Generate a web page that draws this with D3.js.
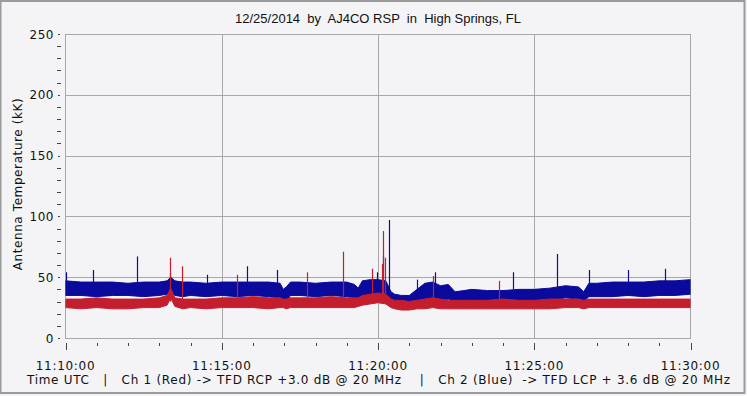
<!DOCTYPE html>
<html>
<head>
<meta charset="utf-8">
<script src="https://cdn.jsdelivr.net/npm/d3@7"></script>
<style>
  body { margin: 0; background: #f4f4f6; }
  svg text { white-space: pre; }
</style>
</head>
<body>
<div id="chart"></div>
<script>
// seconds after 11:10:00 UTC, with the band (low / high) of each channel in kK
const times = [0, 30, 60, 90, 120, 150, 180, 195, 202, 210, 225, 240, 270, 300, 330, 360, 390, 412, 418, 424, 432, 450, 480, 510, 540, 555, 562, 570, 585, 600, 615, 625, 632, 645, 660, 675, 690, 705, 720, 735, 748, 765, 780, 810, 840, 870, 900, 930, 960, 985, 995, 1005, 1020, 1050, 1080, 1110, 1140, 1170, 1200]
const blueLo = [35, 35, 34, 35, 35, 34, 35, 36, 38, 35, 34, 35, 34, 35, 34, 35, 34, 33, 29, 30, 35, 35, 34, 35, 34, 33, 30, 35, 35, 36, 35, 31, 29, 28, 28, 30, 32, 33, 31, 32, 30, 30, 30, 30, 30, 30, 30, 31, 33, 32, 30, 34, 34, 34, 35, 34, 35, 35, 36]
const blueHi = [47, 46, 46, 46, 45, 46, 46, 47, 50, 47, 46, 46, 45, 46, 46, 46, 46, 45, 40, 42, 46, 46, 45, 46, 46, 44, 41, 47, 48, 48, 47, 38, 36, 35, 35, 40, 45, 46, 43, 44, 38, 39, 40, 39, 39, 40, 40, 41, 43, 42, 38, 45, 45, 46, 46, 46, 47, 47, 48]
const redLo = [25, 24, 25, 24, 24, 25, 25, 27, 33, 26, 24, 25, 24, 25, 25, 25, 24, 25, 25, 24, 25, 25, 25, 25, 25, 25, 26, 27, 28, 29, 28, 25, 24, 23, 23, 24, 24, 25, 24, 24, 24, 24, 24, 24, 24, 24, 24, 24, 25, 25, 24, 25, 25, 25, 25, 25, 25, 25, 25]
const redHi = [32, 32, 33, 32, 32, 32, 33, 35, 41, 33, 32, 32, 32, 33, 33, 34, 33, 33, 32, 32, 33, 33, 33, 34, 33, 33, 33, 35, 36, 37, 36, 32, 31, 31, 30, 31, 32, 33, 32, 31, 31, 31, 31, 31, 32, 31, 31, 32, 32, 32, 31, 32, 32, 32, 32, 32, 32, 32, 32]

// isolated spikes [seconds, kK]
const blueSpikes = [[1, 54], [53, 56], [137, 67], [201, 53], [271, 52], [348, 59], [406, 56], [598, 54], [610, 68], [621, 97], [675, 48], [709, 54], [859, 54], [944, 69], [1005, 56], [1080, 56], [1151, 57]]
const redSpikes = [[200, 66], [223, 59], [329, 52], [464, 54], [533, 71], [589, 57], [607, 61], [610, 88], [614, 66], [706, 51], [832, 47]]

const yTicks = [0, 50, 100, 150, 200, 250]
const xTickLabels = ['11:10:00', '11:15:00', '11:20:00', '11:25:00', '11:30:00']

const title = '12/25/2014  by  AJ4CO RSP  in  High Springs, FL'
const yTitle = 'Antenna Temperature (kK)'
const footer = 'Time UTC   |   Ch 1 (Red) -> TFD RCP +3.0 dB @ 20 MHz    |   Ch 2 (Blue)  -> TFD LCP + 3.6 dB @ 20 MHz'

const W = 747, H = 396
const plot = { left: 65.5, right: 690.5, top: 34, bottom: 338 }
const blue = '#0a0a9c', red = '#c41e2e'
const axisFont = 'Verdana, "DejaVu Sans", sans-serif'

const svg = d3.select('#chart').append('svg').attr('width', W).attr('height', H)

svg.append('defs').append('clipPath').attr('id', 'plotClip')
  .append('rect').attr('x', plot.left).attr('y', plot.top)
  .attr('width', plot.right - plot.left).attr('height', plot.bottom - plot.top)

// frame
svg.append('rect').attr('x', 0.5).attr('y', 1).attr('width', W - 3).attr('height', H - 4)
  .attr('fill', '#f4f4f6').attr('stroke', '#9a9a9a').attr('stroke-width', 2)

const x = d3.scaleLinear().domain([0, 1200]).range([plot.left, plot.right])
const y = d3.scaleLinear().domain([0, 250]).range([plot.bottom, plot.top])

// grid
const grid = svg.append('g').attr('stroke', '#a8a8a8').attr('stroke-width', 1)
grid.selectAll('.gy').data(yTicks.slice(1, -1)).enter().append('line')
  .attr('x1', plot.left).attr('x2', plot.right)
  .attr('y1', (d) => Math.round(y(d)) + 0.5).attr('y2', (d) => Math.round(y(d)) + 0.5)
grid.selectAll('.gx').data([300, 600, 900]).enter().append('line')
  .attr('y1', plot.top).attr('y2', plot.bottom)
  .attr('x1', (d) => Math.round(x(d)) + 0.5).attr('x2', (d) => Math.round(x(d)) + 0.5)
svg.append('rect').attr('x', plot.left).attr('y', plot.top + 0.5)
  .attr('width', plot.right - plot.left).attr('height', plot.bottom - plot.top)
  .attr('fill', 'none').attr('stroke', '#a8a8a8')

// bands
const band = (lo, hi) => d3.area()
  .x((d, i) => x(times[i]))
  .y0((d, i) => y(lo[i]))
  .y1((d, i) => y(hi[i]))

const marks = svg.append('g').attr('clip-path', 'url(#plotClip)')
marks.append('path').attr('d', band(blueLo, blueHi)(times))
  .attr('fill', blue).attr('stroke', blue).attr('stroke-width', 1)
marks.append('path').attr('d', band(redLo, redHi)(times))
  .attr('fill', red).attr('stroke', red).attr('stroke-width', 1)

marks.append('g').selectAll('line').data(blueSpikes).enter().append('line')
  .attr('x1', (d) => Math.round(x(d[0])) + 0.5).attr('x2', (d) => Math.round(x(d[0])) + 0.5)
  .attr('y1', y(40)).attr('y2', (d) => y(d[1]))
  .attr('stroke', blue).attr('stroke-width', 1.2)
marks.append('g').selectAll('line').data(redSpikes).enter().append('line')
  .attr('x1', (d) => Math.round(x(d[0])) + 0.5).attr('x2', (d) => Math.round(x(d[0])) + 0.5)
  .attr('y1', y(30)).attr('y2', (d) => y(d[1]))
  .attr('stroke', red).attr('stroke-width', 1.2)

// y axis: minor dashes every 10, labels at 50
const yAxis = svg.append('g')
yAxis.selectAll('line').data(d3.range(0, 251, 10)).enter().append('line')
  .attr('x1', (d) => (d % 50 === 0 ? 58 : 57)).attr('x2', (d) => (d % 50 === 0 ? 60 : 61))
  .attr('y1', (d) => Math.round(y(d)) + 0.5).attr('y2', (d) => Math.round(y(d)) + 0.5)
  .attr('stroke', '#444')
yAxis.selectAll('text').data(yTicks).enter().append('text')
  .attr('x', 54).attr('y', (d) => y(d) + 4.5)
  .attr('text-anchor', 'end').attr('font-family', axisFont).attr('font-size', 12)
  .attr('letter-spacing', 0.5).attr('fill', '#111').text((d) => d)

// x axis: minor tick each minute, major each 5 minutes
const xAxis = svg.append('g')
xAxis.selectAll('line').data(d3.range(0, 1201, 60)).enter().append('line')
  .attr('x1', (d) => Math.round(x(d)) + 0.5).attr('x2', (d) => Math.round(x(d)) + 0.5)
  .attr('y1', 343).attr('y2', (d) => (d % 300 === 0 ? 350 : 346))
  .attr('stroke', '#444')
xAxis.selectAll('text').data(xTickLabels).enter().append('text')
  .attr('x', (d, i) => x(i * 300)).attr('y', 370)
  .attr('text-anchor', 'middle').attr('font-family', axisFont).attr('font-size', 12)
  .attr('letter-spacing', 0.7).attr('fill', '#111').text((d) => d)

svg.append('text').attr('x', 378).attr('y', 23).attr('text-anchor', 'middle')
  .attr('font-family', 'Arial, "Liberation Sans", sans-serif').attr('font-size', 13)
  .attr('fill', '#111').text(title)

svg.append('text').attr('transform', 'translate(22,184) rotate(-90)').attr('text-anchor', 'middle')
  .attr('font-family', axisFont).attr('font-size', 12).attr('letter-spacing', 0.6)
  .attr('fill', '#111').text(yTitle)

svg.append('text').attr('x', 27).attr('y', 384)
  .attr('textLength', 703).attr('lengthAdjust', 'spacing')
  .attr('font-family', axisFont).attr('font-size', 12).attr('fill', '#111').text(footer)
</script>
</body>
</html>
